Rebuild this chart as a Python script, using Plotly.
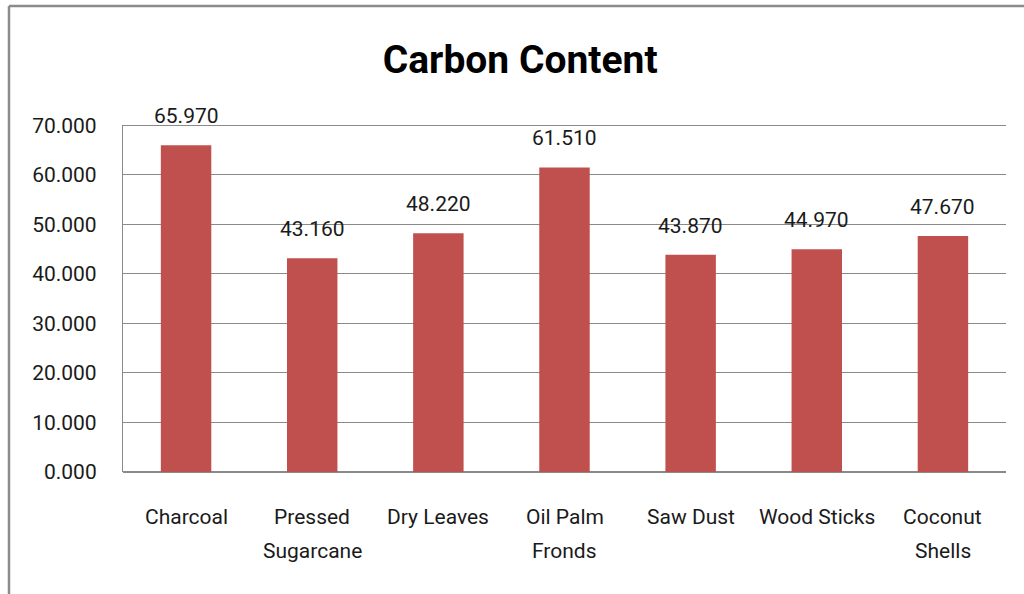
import plotly.graph_objects as go

# Carbon content by fuel type
categories = ["Charcoal", "Pressed Sugarcane", "Dry Leaves", "Oil Palm Fronds",
              "Saw Dust", "Wood Sticks", "Coconut Shells"]
label_lines = [["Charcoal"], ["Pressed", "Sugarcane"], ["Dry Leaves"], ["Oil Palm", "Fronds"],
               ["Saw Dust"], ["Wood Sticks"], ["Coconut", "Shells"]]
carbon = [65.970, 43.160, 48.220, 61.510, 43.870, 44.970, 47.670]
y_ticks = [0, 10, 20, 30, 40, 50, 60, 70]

W, H = 1024, 594
ML, MR, MT, MB = 123, 18, 125, 122
FONT = "Roboto"
TXT = "#1a1a1a"
BAR = "#C0504D"
GRID = "#8a8a8a"

fig = go.Figure()
fig.add_trace(go.Bar(x=categories, y=carbon, marker=dict(color=BAR, line=dict(width=0)),
                     hoverinfo="x+y"))

# value labels sitting above each bar
for c, v in zip(categories, carbon):
    fig.add_annotation(x=c, y=v, text=f"{v:.3f}", showarrow=False, yanchor="middle",
                       yshift=29, font=dict(family=FONT, size=21, color=TXT))

# category names under the axis, one annotation per line for wider line spacing
for c, lines in zip(categories, label_lines):
    for i, line in enumerate(lines):
        fig.add_annotation(x=c, xref="x", y=0, yref="paper", text=line, showarrow=False,
                           yanchor="middle", yshift=-(45 + 34 * i),
                           font=dict(family=FONT, size=21, color=TXT))

# gridline at the top of the value range (plotly skips it at the edge)
fig.add_shape(type="line", xref="paper", yref="y", x0=0, x1=1, y0=y_ticks[-1], y1=y_ticks[-1],
              line=dict(color=GRID, width=1.2), layer="below")

# outer chart frame (top and left edges)
pw, ph = W - ML - MR, H - MT - MB
x_left = (9 - ML) / pw
y_top = (H - MB - 6) / ph
y_bot = (H - MB - H) / ph
fig.add_shape(type="line", xref="paper", yref="paper", x0=x_left, x1=(W - ML) / pw,
              y0=y_top, y1=y_top, line=dict(color="#8c8c8c", width=2.5))
fig.add_shape(type="line", xref="paper", yref="paper", x0=x_left, x1=x_left,
              y0=y_bot, y1=y_top, line=dict(color="#8c8c8c", width=2.5))

fig.update_layout(
    width=W, height=H,
    margin=dict(l=ML, r=MR, t=MT, b=MB),
    paper_bgcolor="white", plot_bgcolor="white",
    bargap=0.6, showlegend=False,
    title=dict(text="<b>Carbon Content</b>", x=0.508, xanchor="center", y=0.9, yanchor="middle",
               font=dict(family=FONT, size=39, color="black")),
    xaxis=dict(showline=False, showgrid=False, ticks="", showticklabels=False),
    yaxis=dict(range=[0, 70.08], tickvals=y_ticks, ticktext=[f"{t:.3f}" for t in y_ticks],
               showgrid=True, gridcolor=GRID, gridwidth=1.2,
               showline=True, linecolor=GRID, linewidth=1.2,
               zeroline=True, zerolinecolor=GRID, zerolinewidth=1.5,
               ticks="", ticklabelstandoff=21,
               tickfont=dict(family=FONT, size=21, color=TXT)),
)

fig.write_html("out.html")
